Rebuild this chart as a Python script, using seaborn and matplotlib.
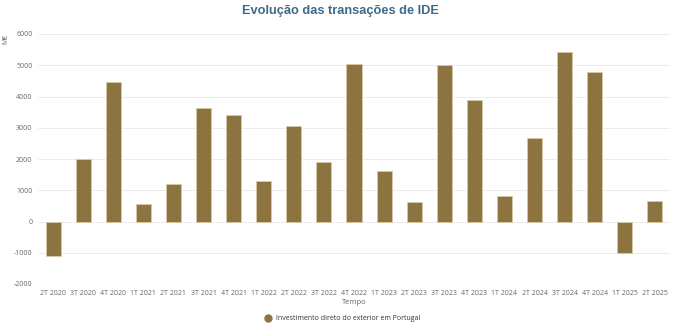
import matplotlib
matplotlib.use("Agg")
import matplotlib.pyplot as plt
import seaborn as sns
import pandas as pd
from matplotlib.lines import Line2D

categories = ["2T 2020", "3T 2020", "4T 2020", "1T 2021", "2T 2021", "3T 2021", "4T 2021",
              "1T 2022", "2T 2022", "3T 2022", "4T 2022", "1T 2023", "2T 2023", "3T 2023",
              "4T 2023", "1T 2024", "2T 2024", "3T 2024", "4T 2024", "1T 2025", "2T 2025"]
values = [-1100, 2000, 4460, 560, 1200, 3630, 3400, 1300, 3050, 1900, 5040, 1620, 630,
          5000, 3890, 820, 2670, 5420, 4780, -1010, 650]
yticks = [-2000, -1000, 0, 1000, 2000, 3000, 4000, 5000, 6000]
series_name = "Investimento direto do exterior em Portugal"

sns.set_theme(style="white")
plt.rcParams['font.family'] = ['Open Sans', 'DejaVu Sans']

df = pd.DataFrame({"Tempo": categories, "Valor": values})
fig = plt.figure(figsize=(6.81, 3.24), dpi=100)
ax = fig.add_axes([38/681, 40/324, (670-38)/681, (284-34)/324])

bar_color = "#8c7340"
sns.barplot(data=df, x="Tempo", y="Valor", color=bar_color, width=0.5,
            edgecolor="#d8cba8", linewidth=0.6, ax=ax, saturation=1)

ax.set_ylim(-2000, 6000)
ax.set_xlim(-0.5, len(categories) - 0.5)
ax.set_yticks(yticks)
ax.set_yticklabels([str(t) for t in yticks])
ax.yaxis.grid(True, color="#ececec", linewidth=0.7)
ax.set_axisbelow(True)
for s in ["top", "right", "left"]:
    ax.spines[s].set_visible(False)
ax.spines["bottom"].set_visible(False)
ax.axhline(-2000, color="#ccd6eb", linewidth=0.8, zorder=0)
ax.tick_params(axis="both", length=0, labelsize=5, colors="#666666", pad=4)
ax.set_xlabel("Tempo", fontsize=5.5, color="#666666", labelpad=2)
ax.set_ylabel("M€", fontsize=5, color="#666666", labelpad=2)
ax.yaxis.set_label_coords(-0.046, 0.98)

fig.suptitle("Evolução das transações de IDE", x=0.5, y=0.985, fontsize=9.2,
             fontweight="bold", color="#3e6a88", family=["Liberation Sans", "DejaVu Sans"])

handle = Line2D([0], [0], marker="o", linestyle="none", markersize=5,
                markerfacecolor=bar_color, markeredgecolor=bar_color)
fig.legend([handle], [series_name], loc="center", bbox_to_anchor=(0.5, 0.016),
           frameon=False, fontsize=5, labelcolor="#333333", handletextpad=0.2,
           borderaxespad=0)

fig.savefig("out.png", dpi=100)
